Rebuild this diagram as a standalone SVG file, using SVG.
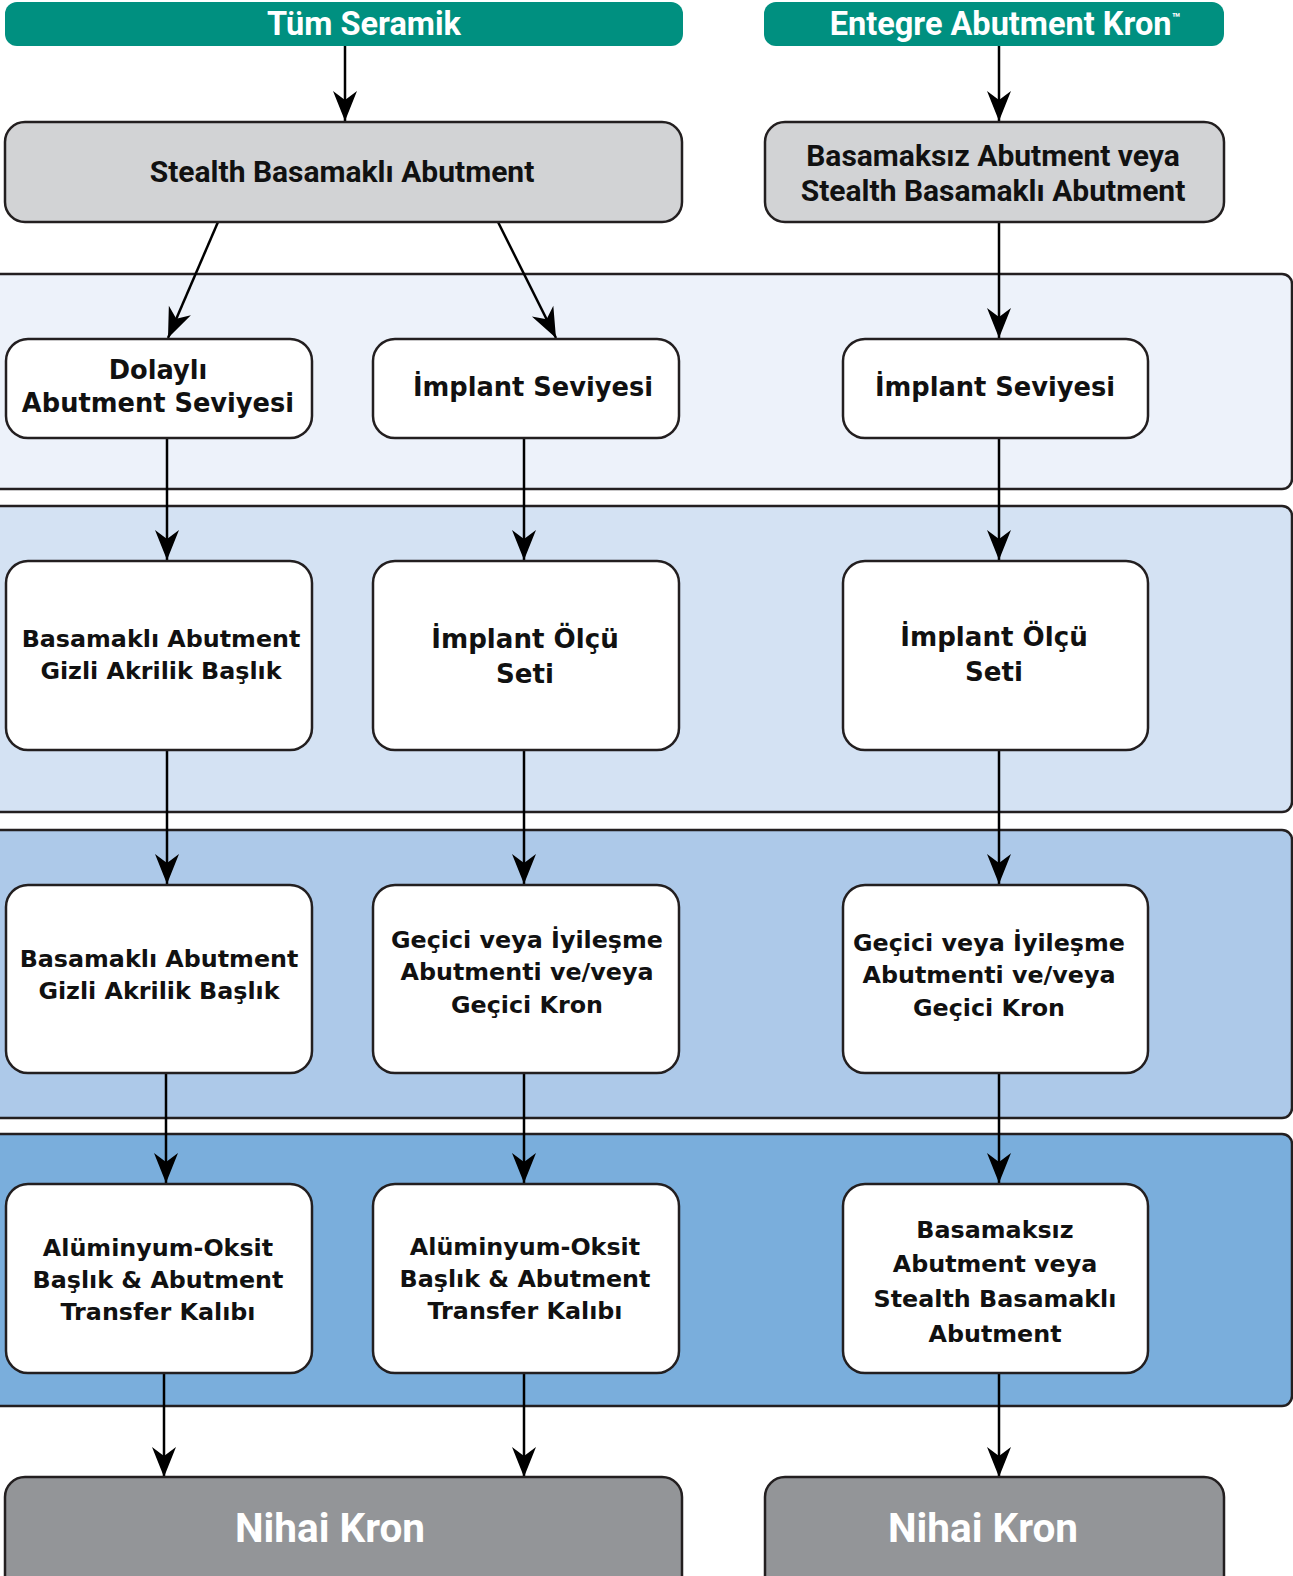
<svg xmlns="http://www.w3.org/2000/svg" width="1293" height="1576" viewBox="0 0 1293 1576">
<defs>
<style>
.band{stroke:#231f20;stroke-width:2.5}
.hdr{fill:#009080}
.gbox{fill:#d2d3d5;stroke:#231f20;stroke-width:2.5}
.node{fill:#ffffff;stroke:#231f20;stroke-width:2.5}
.fin{fill:#939598;stroke:#231f20;stroke-width:2.5}
.conn{stroke:#000;stroke-width:2.5;fill:none}
.ht{font-family:Roboto,"Noto Sans",sans-serif;font-weight:bold;fill:#fff;text-anchor:middle;font-size:32.5px}
.gt{font-family:Roboto,"Noto Sans",sans-serif;font-weight:bold;fill:#111;text-anchor:middle;font-size:30px}
.nt{font-family:"DejaVu Sans",sans-serif;font-weight:bold;fill:#111;text-anchor:middle;font-size:25.7px}
.nm{font-size:26.1px}
.ns{font-size:23.8px}
.ft{font-family:Roboto,"Noto Sans",sans-serif;font-weight:bold;fill:#fff;text-anchor:middle;font-size:40.5px}
</style>
<marker id="ah" viewBox="-31 -13 32 26" refX="0" refY="0" markerWidth="32" markerHeight="26" markerUnits="userSpaceOnUse" orient="auto">
<path d="M0,0 L-30,-12 L-21,0 L-30,12 Z" fill="#000"/>
</marker>
</defs>
<rect width="1293" height="1576" fill="#fff"/>
<g id="bands">
<rect class="band" x="-20" y="274" width="1312" height="215" rx="10" fill="#edf2fa"/>
<rect class="band" x="-20" y="506" width="1312" height="306" rx="10" fill="#d4e2f3"/>
<rect class="band" x="-20" y="830" width="1312" height="288" rx="10" fill="#adc9e9"/>
<rect class="band" x="-20" y="1134" width="1312" height="272" rx="10" fill="#7aaedc"/>
</g>
<g id="connectors">
<line class="conn" x1="345" y1="45" x2="345" y2="121" marker-end="url(#ah)"/>
<line class="conn" x1="999" y1="45" x2="999" y2="121" marker-end="url(#ah)"/>
<line class="conn" x1="218" y1="222" x2="168" y2="338" marker-end="url(#ah)"/>
<line class="conn" x1="498" y1="222" x2="556" y2="338" marker-end="url(#ah)"/>
<line class="conn" x1="999" y1="222" x2="999" y2="338" marker-end="url(#ah)"/>
<line class="conn" x1="167" y1="438" x2="167" y2="560" marker-end="url(#ah)"/>
<line class="conn" x1="524" y1="438" x2="524" y2="560" marker-end="url(#ah)"/>
<line class="conn" x1="999" y1="438" x2="999" y2="560" marker-end="url(#ah)"/>
<line class="conn" x1="167" y1="750" x2="167" y2="884" marker-end="url(#ah)"/>
<line class="conn" x1="524" y1="750" x2="524" y2="884" marker-end="url(#ah)"/>
<line class="conn" x1="999" y1="750" x2="999" y2="884" marker-end="url(#ah)"/>
<line class="conn" x1="166" y1="1073" x2="166" y2="1183" marker-end="url(#ah)"/>
<line class="conn" x1="524" y1="1073" x2="524" y2="1183" marker-end="url(#ah)"/>
<line class="conn" x1="999" y1="1073" x2="999" y2="1183" marker-end="url(#ah)"/>
<line class="conn" x1="164" y1="1373" x2="164" y2="1477" marker-end="url(#ah)"/>
<line class="conn" x1="524" y1="1373" x2="524" y2="1477" marker-end="url(#ah)"/>
<line class="conn" x1="999" y1="1373" x2="999" y2="1477" marker-end="url(#ah)"/>
</g>
<g id="hdr-left">
<rect class="hdr" x="5" y="2" width="678" height="44" rx="12"/>
<text class="ht" x="364" y="35">Tüm Seramik</text>
</g>
<g id="hdr-right">
<rect class="hdr" x="764" y="2" width="460" height="44" rx="12"/>
<text class="ht" x="1005" y="35">Entegre Abutment Kron<tspan font-size="14" dy="-12">™</tspan></text>
</g>
<g id="stealth-left">
<rect class="gbox" x="5" y="122" width="677" height="100" rx="20"/>
<text class="gt" x="342" y="182">Stealth Basamaklı Abutment</text>
</g>
<g id="stealth-right">
<rect class="gbox" x="765" y="122" width="459" height="100" rx="20"/>
<text class="gt" x="993" y="166">Basamaksız Abutment veya</text>
<text class="gt" x="993" y="201">Stealth Basamaklı Abutment</text>
</g>
<g id="r1c1">
<rect class="node" x="6" y="339" width="306" height="99" rx="22"/>
<text class="nt" x="158" y="379">Dolaylı</text>
<text class="nt" x="158" y="412">Abutment Seviyesi</text>
</g>
<g id="r1c2">
<rect class="node" x="373" y="339" width="306" height="99" rx="22"/>
<text class="nt" x="533" y="396">İmplant Seviyesi</text>
</g>
<g id="r1c3">
<rect class="node" x="843" y="339" width="305" height="99" rx="22"/>
<text class="nt" x="995" y="396">İmplant Seviyesi</text>
</g>
<g id="r2c1">
<rect class="node" x="6" y="561" width="306" height="189" rx="22"/>
<text class="nt ns" x="161" y="647">Basamaklı Abutment</text>
<text class="nt ns" x="161" y="679">Gizli Akrilik Başlık</text>
</g>
<g id="r2c2">
<rect class="node" x="373" y="561" width="306" height="189" rx="22"/>
<text class="nt nm" x="525" y="648">İmplant Ölçü</text>
<text class="nt nm" x="525" y="683">Seti</text>
</g>
<g id="r2c3">
<rect class="node" x="843" y="561" width="305" height="189" rx="22"/>
<text class="nt nm" x="994" y="646">İmplant Ölçü</text>
<text class="nt nm" x="994" y="681">Seti</text>
</g>
<g id="r3c1">
<rect class="node" x="6" y="885" width="306" height="188" rx="22"/>
<text class="nt ns" x="159" y="967">Basamaklı Abutment</text>
<text class="nt ns" x="159" y="999">Gizli Akrilik Başlık</text>
</g>
<g id="r3c2">
<rect class="node" x="373" y="885" width="306" height="188" rx="22"/>
<text class="nt ns" x="527" y="948">Geçici veya İyileşme</text>
<text class="nt ns" x="527" y="980">Abutmenti ve/veya</text>
<text class="nt ns" x="527" y="1013">Geçici Kron</text>
</g>
<g id="r3c3">
<rect class="node" x="843" y="885" width="305" height="188" rx="22"/>
<text class="nt ns" x="989" y="951">Geçici veya İyileşme</text>
<text class="nt ns" x="989" y="983">Abutmenti ve/veya</text>
<text class="nt ns" x="989" y="1016">Geçici Kron</text>
</g>
<g id="r4c1">
<rect class="node" x="6" y="1184" width="306" height="189" rx="22"/>
<text class="nt ns" x="158" y="1256">Alüminyum-Oksit</text>
<text class="nt ns" x="158" y="1288">Başlık &amp; Abutment</text>
<text class="nt ns" x="158" y="1320">Transfer Kalıbı</text>
</g>
<g id="r4c2">
<rect class="node" x="373" y="1184" width="306" height="189" rx="22"/>
<text class="nt ns" x="525" y="1255">Alüminyum-Oksit</text>
<text class="nt ns" x="525" y="1287">Başlık &amp; Abutment</text>
<text class="nt ns" x="525" y="1319">Transfer Kalıbı</text>
</g>
<g id="r4c3">
<rect class="node" x="843" y="1184" width="305" height="189" rx="22"/>
<text class="nt ns" x="995" y="1238">Basamaksız</text>
<text class="nt ns" x="995" y="1272">Abutment veya</text>
<text class="nt ns" x="995" y="1307">Stealth Basamaklı</text>
<text class="nt ns" x="995" y="1342">Abutment</text>
</g>
<g id="final-left">
<rect class="fin" x="5" y="1477" width="677" height="120" rx="20"/>
<text class="ft" x="330" y="1542">Nihai Kron</text>
</g>
<g id="final-right">
<rect class="fin" x="765" y="1477" width="459" height="120" rx="20"/>
<text class="ft" x="983" y="1542">Nihai Kron</text>
</g>
</svg>
